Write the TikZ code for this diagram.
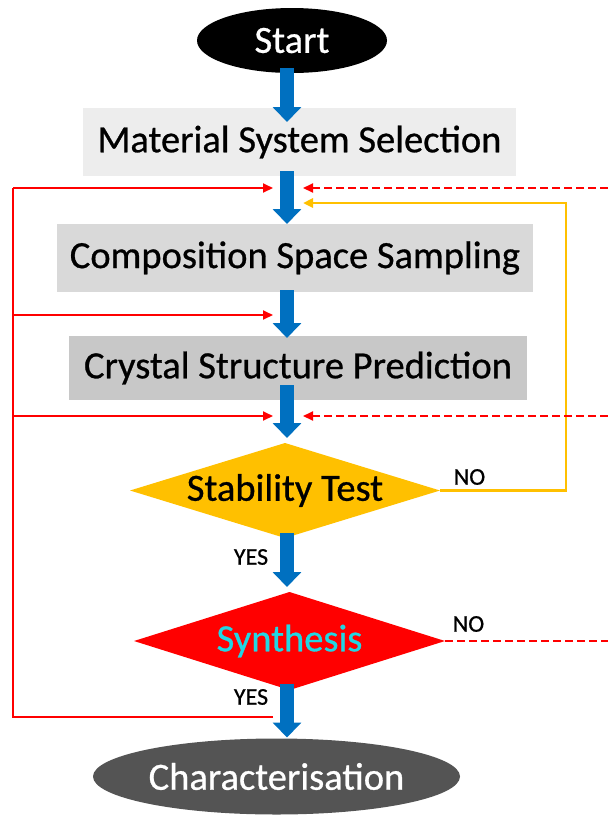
\documentclass[tikz,border=0pt]{standalone}
\usepackage{fontspec}
\setmainfont{Carlito}[BoldFont=Carlito, BoldFeatures={FakeBold=0.7}]
\usetikzlibrary{shapes.geometric,arrows.meta}
\definecolor{flowblue}{HTML}{0070C0}
\definecolor{boxA}{HTML}{EDEDED}
\definecolor{boxB}{HTML}{D9D9D9}
\definecolor{boxC}{HTML}{C8C8C8}
\definecolor{testorange}{HTML}{FFC000}
\definecolor{synred}{HTML}{FF0000}
\definecolor{syncyan}{HTML}{22D6E3}
\definecolor{chargray}{HTML}{545454}
\begin{document}
\begin{tikzpicture}[x=1pt,y=-1pt,
  every node/.style={inner sep=0pt, outer sep=0pt},
  bigtext/.style={font=\fontsize{38.5}{40}\selectfont\bfseries},
  smalltext/.style={font=\fontsize{24}{26}\selectfont\bfseries},
  procbox/.style={rectangle, bigtext, minimum height=68pt},
  termnode/.style={ellipse, bigtext, text=white},
  decision/.style={diamond, bigtext},
  flow/.style={draw=flowblue, line width=14pt, -{Triangle[width=28pt,length=15pt]}},
  feedback/.style={draw=synred, line width=2pt},
  feedarrow/.style={feedback, -{Triangle[width=9pt,length=10pt]}},
  retry/.style={draw=synred, line width=2pt, dash pattern=on 8pt off 4pt},
  retryarrow/.style={retry, -{Triangle[width=9pt,length=10pt]}},
  loopback/.style={draw=testorange, line width=2.5pt, -{Triangle[width=9pt,length=10pt]}}
]
\useasboundingbox (0,0) rectangle (608,815);

% nodes
\node[termnode, fill=black, minimum width=190pt, minimum height=65pt] (start) at (292,40.5) {Start};
\node[procbox, fill=boxA, minimum width=433pt] (mat) at (299.5,142) {Material System Selection};
\node[procbox, fill=boxB, minimum width=476pt] (comp) at (295,258) {Composition Space Sampling};
\node[procbox, fill=boxC, minimum width=458pt, minimum height=64pt] (cryst) at (298,368) {Crystal Structure Prediction};
\node[decision, fill=testorange, aspect=3.26, minimum width=310pt, minimum height=95pt] (stab) at (285,490.5) {Stability Test};
\node[decision, fill=synred, text=syncyan, aspect=3.17, minimum width=311pt, minimum height=98pt] (synth) at (289.5,641) {Synthesis};
\node[termnode, fill=chargray, minimum width=367pt, minimum height=76pt] (char) at (276.5,776.5) {Characterisation};

\node[smalltext] (no1) at (469.5,477) {NO};
\node[smalltext] (yes1) at (251,557) {YES};
\node[smalltext] (no2) at (468.5,624) {NO};
\node[smalltext] (yes2) at (251,697) {YES};

% coordinates
\coordinate (xa) at (287,0);
\coordinate (busL) at (13,0);
\coordinate (tipL) at (273,0);
\coordinate (tipR) at (303,0);
\coordinate (edgeR) at (608,0);
\coordinate (loopx) at (566,0);
\coordinate (rowA) at (0,188);
\coordinate (rowY) at (0,203);
\coordinate (rowB) at (0,315);
\coordinate (rowC) at (0,416);
\coordinate (rowD) at (0,717);

% red feedback (solid)
\draw[feedback] (tipL |- rowD) -- (busL |- rowD) -- (busL |- rowA);
\draw[feedarrow] (busL |- rowA) -- (tipL |- rowA);
\draw[feedarrow] (busL |- rowB) -- (tipL |- rowB);
\draw[feedarrow] (busL |- rowC) -- (tipL |- rowC);

% yellow loop from stability test
\draw[loopback] (stab.east) -- (loopx |- stab.east) -- (loopx |- rowY) -- (tipR |- rowY);

% red dashed
\draw[retryarrow] (edgeR |- rowA) -- (tipR |- rowA);
\draw[retryarrow] (edgeR |- rowC) -- (tipR |- rowC);
\draw[retry] (synth.east) -- (edgeR |- synth.east);

% blue flow arrows
\draw[flow] ([yshift=5pt]start.south -| xa) -- ([yshift=-14pt]mat.north -| xa);
\draw[flow] ([yshift=5pt]mat.south -| xa) -- (comp.north -| xa);
\draw[flow] ([yshift=2pt]comp.south -| xa) -- ([yshift=-2pt]cryst.north -| xa);
\draw[flow] ([yshift=15pt]cryst.south -| xa) -- ([yshift=5pt]stab.north -| xa);
\draw[flow] ([yshift=5pt]stab.south -| xa) -- ([yshift=5pt]synth.north -| xa);
\draw[flow] ([yshift=6pt]synth.south -| xa) -- ([yshift=1pt]char.north -| xa);
\end{tikzpicture}
\end{document}
